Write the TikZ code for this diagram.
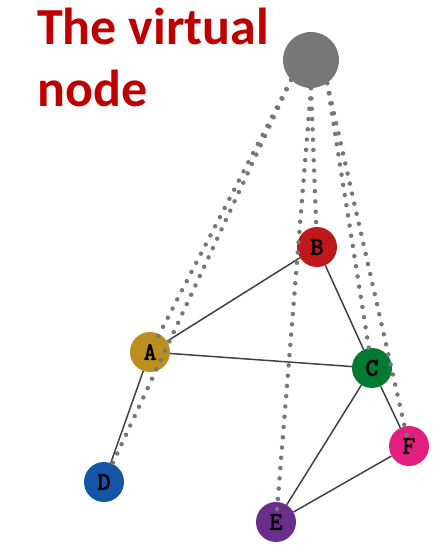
\documentclass[tikz,border=0pt]{standalone}
\usepackage{fontspec}
\setmainfont{Carlito}
\newfontfamily\labelfont[FakeBold=3]{Latin Modern Mono}
\definecolor{titlered}{RGB}{190,0,0}
\definecolor{virtgray}{RGB}{119,119,119}
\definecolor{edgegray}{RGB}{60,64,72}
\definecolor{nodeA}{RGB}{187,142,32}
\definecolor{nodeB}{RGB}{192,24,26}
\definecolor{nodeC}{RGB}{0,122,51}
\definecolor{nodeD}{RGB}{20,86,166}
\definecolor{nodeE}{RGB}{106,46,140}
\definecolor{nodeF}{RGB}{226,30,126}

\begin{document}
\begin{tikzpicture}[x=1pt,y=-1pt,
  main node/.style={circle,draw=none,minimum size=40pt,inner sep=0pt,
    font=\labelfont\fontsize{25}{25}\selectfont},
  virtual node/.style={circle,fill=virtgray,minimum size=56pt,inner sep=0pt},
  edge line/.style={draw=edgegray,line width=1.5pt},
  virtual link/.style={draw=virtgray,line width=4.5pt,line cap=round,
    dash pattern=on 0pt off 10.3pt}]
  \useasboundingbox (0,0) rectangle (438,550);
  \node[anchor=base west,align=left,text=titlered,inner sep=0pt,
    font=\bfseries\fontsize{52}{62}\selectfont] (title) at (37,106)
    {The virtual\\ node};

  \node[virtual node] (V) at (311,60) {};
  \node[main node,fill=nodeA] (A) at (150,352) {A};
  \node[main node,fill=nodeB] (B) at (317,247) {B};
  \node[main node,fill=nodeC] (C) at (372,368) {C};
  \node[main node,fill=nodeD] (D) at (104,482) {D};
  \node[main node,fill=nodeE] (E) at (276,522) {E};
  \node[main node,fill=nodeF] (F) at (409,446) {F};

  \path[edge line]
    (A) edge (B)
        edge (C)
        edge (D)
    (B) edge (C)
    (C) edge (E)
        edge (F)
    (E) edge (F);

  % dotted links from the virtual node
  \draw[virtual link, shorten >=9pt] (V.225) -- (A.center);
  \draw[virtual link] (V.225) -- (D);
  \draw[virtual link, shorten >=15pt] (V.south) -- (B.center);
  \draw[virtual link, shorten >=10pt] (V.south) -- (E.center);
  \draw[virtual link] (V.305) -- (C);
  \draw[virtual link, shorten >=6pt] (V.305) -- (F.center);
\end{tikzpicture}
\end{document}
